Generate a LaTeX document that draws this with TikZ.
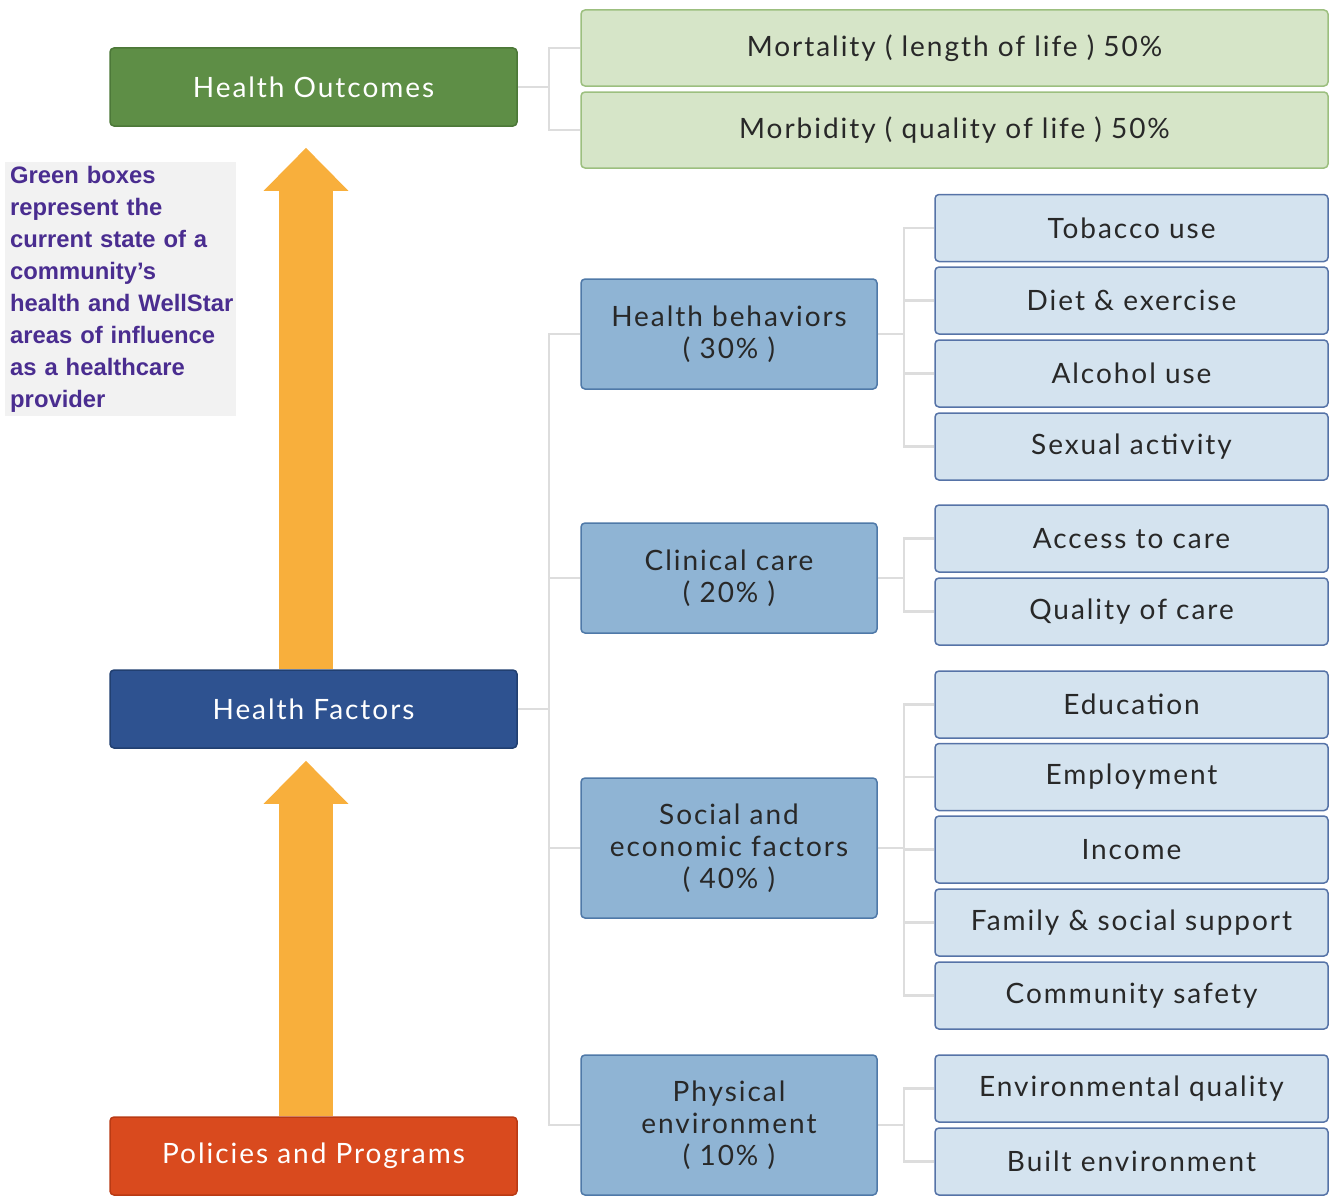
\documentclass[tikz,border=0pt]{standalone}
\usepackage{fontspec}
\setmainfont{Lato}[LetterSpace=7]
\newfontfamily\notefont{Liberation Sans}
\usetikzlibrary{arrows.meta}
\newcommand{\nohyph}{\hyphenpenalty=10000 \hbadness=10000 \hfuzz=20pt }

\definecolor{outgreen}{HTML}{5E8E46}
\definecolor{outgreenline}{HTML}{4C7838}
\definecolor{lightgreen}{HTML}{D6E5C8}
\definecolor{lightgreenline}{HTML}{9CBF7F}
\definecolor{facblue}{HTML}{2E5290}
\definecolor{facblueline}{HTML}{213F70}
\definecolor{polred}{HTML}{D94A1E}
\definecolor{polredline}{HTML}{B93A14}
\definecolor{midblue}{HTML}{8FB4D4}
\definecolor{midblueline}{HTML}{4F79A8}
\definecolor{leafblue}{HTML}{D4E3EF}
\definecolor{leafblueline}{HTML}{5673A7}
\definecolor{arrorange}{HTML}{F8AF3C}
\definecolor{conngray}{HTML}{DDDDDD}
\definecolor{notegray}{HTML}{F2F2F2}
\definecolor{notepurple}{HTML}{4A2D90}
\definecolor{boxtext}{HTML}{282828}

\begin{document}
\begin{tikzpicture}[x=1pt,y=-1pt,
    box/.style={rectangle,rounded corners=4pt,line width=1.5pt,inner sep=0pt,
      align=center,font=\fontsize{28}{32}\selectfont},
    topbox/.style={box,minimum width=407pt,minimum height=78pt,text=white},
    outbox/.style={topbox,fill=outgreen,draw=outgreenline},
    facbox/.style={topbox,fill=facblue,draw=facblueline},
    polbox/.style={topbox,fill=polred,draw=polredline},
    greenbox/.style={box,minimum width=747pt,minimum height=76pt,
      fill=lightgreen,draw=lightgreenline,text=boxtext},
    midbox/.style={box,minimum width=296pt,fill=midblue,draw=midblueline,text=boxtext},
    leafbox/.style={box,minimum width=393pt,minimum height=67pt,
      fill=leafblue,draw=leafblueline,text=boxtext},
    conn/.style={draw=conngray,line width=2.5pt},
    uparrow/.style={draw=arrorange,line width=54pt,
      -{Triangle[width=82pt,length=43pt]}}]

  \useasboundingbox (0,0) rectangle (1332,1199);

  % left column
  \node[outbox] (out) at (313.5,87)   {Health Outcomes};
  \node[facbox] (fac) at (313.5,709)  {Health Factors};
  \node[polbox] (pol) at (313.5,1156) {Policies and Programs};

  \draw[uparrow] ([xshift=-7.5pt]pol.north) -- ([xshift=-7.5pt,yshift=-12pt]fac.south);
  \draw[uparrow] ([xshift=-7.5pt]fac.north) -- ([xshift=-7.5pt,yshift=-21pt]out.south);

  \node[fill=notegray,anchor=north west,minimum width=231pt,minimum height=254pt,
    inner xsep=5pt,inner ysep=0pt,text width=221pt,align=left,text=notepurple,
    font=\notefont\bfseries\fontsize{23.8}{32}\selectfont\nohyph]
    (note) at (5,162)
    {Green boxes\\represent the\\current state of a\\community’s\\\mbox{health and WellStar}\\
     areas of influence\\as a healthcare\\provider};

  % outcomes
  \node[greenbox] (mort) at (954.5,48)  {Mortality ( length of life ) 50\%};
  \node[greenbox] (morb) at (954.5,130) {Morbidity ( quality of life ) 50\%};

  % factors
  \node[midbox,minimum height=110pt] (beh)  at (729,334)  {Health behaviors\\( 30\% )};
  \node[midbox,minimum height=110pt] (clin) at (729,578)  {Clinical care\\( 20\% )};
  \node[midbox,minimum height=140pt] (soc)  at (729,848)  {Social and\\economic factors\\( 40\% )};
  \node[midbox,minimum height=140pt] (phys) at (729,1125) {Physical\\environment\\( 10\% )};

  \node[leafbox] (tob)   at (1131.5,228)    {Tobacco use};
  \node[leafbox] (diet)  at (1131.5,300.5)  {Diet \& exercise};
  \node[leafbox] (alc)   at (1131.5,373.5)  {Alcohol use};
  \node[leafbox] (sex)   at (1131.5,446.5)  {Sexual activity};
  \node[leafbox] (acc)   at (1131.5,538.5)  {Access to care};
  \node[leafbox] (qual)  at (1131.5,611.5)  {Quality of care};
  \node[leafbox] (edu)   at (1131.5,704.5)  {Education};
  \node[leafbox] (emp)   at (1131.5,777)    {Employment};
  \node[leafbox] (inc)   at (1131.5,849.5)  {Income};
  \node[leafbox] (fam)   at (1131.5,922.5)  {Family \& social support};
  \node[leafbox] (com)   at (1131.5,995.5)  {Community safety};
  \node[leafbox] (envq)  at (1131.5,1088.5) {Environmental quality};
  \node[leafbox] (built) at (1131.5,1161.5) {Built environment};

  % connectors
  \draw[conn] (out.east) -- ++(31,0) coordinate (oj);
  \foreach \g in {mort,morb}
    \draw[conn] (oj) |- (\g.west);

  \draw[conn] (fac.east) -- ++(31,0) coordinate (fj);
  \foreach \m in {beh,clin,soc,phys}
    \draw[conn] (fj) |- (\m.west);

  \foreach \m/\leaves in {beh/{tob,diet,alc,sex},clin/{acc,qual},
      soc/{edu,emp,inc,fam,com},phys/{envq,built}} {
    \draw[conn] (\m.east) -- ++(26,0) coordinate (mj);
    \foreach \l in \leaves
      \draw[conn] (mj) |- (\l.west);
  }

\end{tikzpicture}
\end{document}
